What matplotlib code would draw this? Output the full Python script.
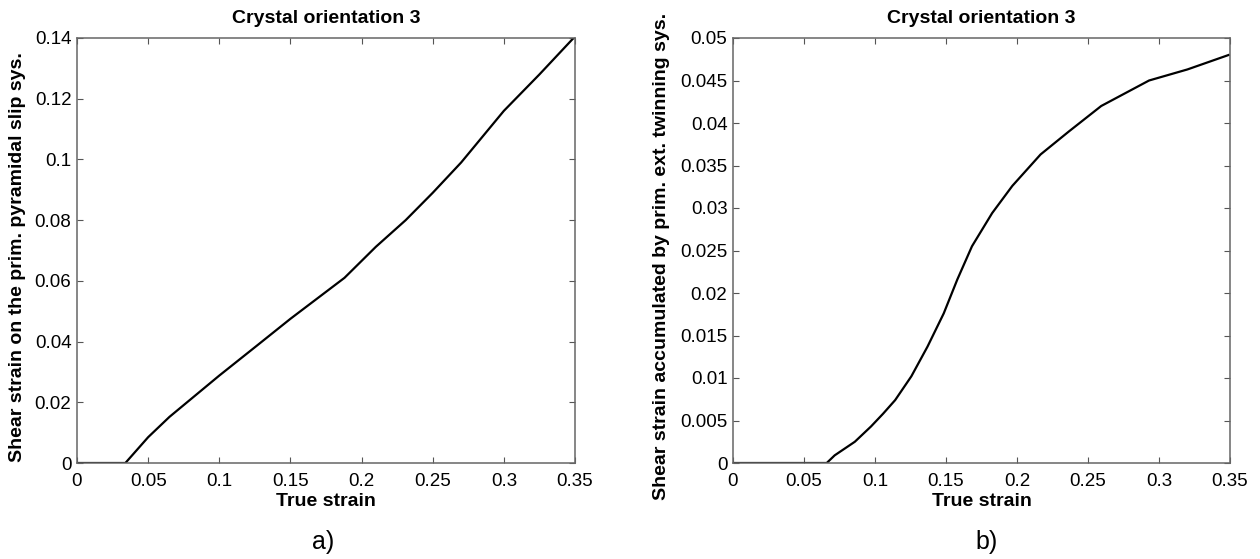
import numpy as np
import matplotlib.pyplot as plt

plt.rcParams['font.family'] = ['Liberation Sans', 'DejaVu Sans']

# panel a) primary pyramidal slip
strain_a = [0.0, 0.034, 0.05, 0.065, 0.1, 0.126, 0.15, 0.188, 0.21, 0.231, 0.25, 0.27, 0.30, 0.325, 0.349]
shear_a = [0.0, 0.0, 0.0085, 0.0152, 0.0288, 0.0385, 0.0475, 0.061, 0.0712, 0.080, 0.089, 0.099, 0.116, 0.128, 0.140]

# panel b) primary extension twinning
strain_b = [0.0, 0.066, 0.0716, 0.0858, 0.0972, 0.1057, 0.1142, 0.1256, 0.137, 0.1484, 0.158,
            0.1683, 0.1825, 0.1967, 0.2166, 0.2365, 0.2593, 0.293, 0.32, 0.349]
shear_b = [0.0, 0.0, 0.0009, 0.0025, 0.0043, 0.0058, 0.0074, 0.0102, 0.0137, 0.0176, 0.0216,
           0.0255, 0.0294, 0.0326, 0.0363, 0.039, 0.042, 0.045, 0.0463, 0.048]

xticks = [0, 0.05, 0.1, 0.15, 0.2, 0.25, 0.3, 0.35]
xticklabels = ['0', '0.05', '0.1', '0.15', '0.2', '0.25', '0.3', '0.35']
yticks_a = [0, 0.02, 0.04, 0.06, 0.08, 0.1, 0.12, 0.14]
yticklabels_a = ['0', '0.02', '0.04', '0.06', '0.08', '0.1', '0.12', '0.14']
yticks_b = [0, 0.005, 0.01, 0.015, 0.02, 0.025, 0.03, 0.035, 0.04, 0.045, 0.05]
yticklabels_b = ['0', '0.005', '0.01', '0.015', '0.02', '0.025', '0.03', '0.035', '0.04', '0.045', '0.05']

W, H = 1260, 559
fig = plt.figure(figsize=(12.6, 5.59), dpi=100)
ax1 = fig.add_axes([77 / W, 1 - 463 / H, 498 / W, 425 / H])
ax2 = fig.add_axes([733 / W, 1 - 463 / H, 497 / W, 425 / H])


def style(ax, yticks, yticklabels, ylim, ylabel, ylabel_x):
    ax.set_xlim(0, 0.35)
    ax.set_ylim(*ylim)
    ax.set_xticks(xticks)
    ax.set_xticklabels(xticklabels)
    ax.set_yticks(yticks)
    ax.set_yticklabels(yticklabels)
    ax.tick_params(direction='in', top=True, right=True, length=4, width=0.8,
                   color='#555555', labelsize=13.5)
    ax.tick_params(axis='x', pad=7)
    ax.tick_params(axis='y', pad=4)
    for s in ax.spines.values():
        s.set_color('#666666')
        s.set_linewidth(1.1)
    ax.set_title('Crystal orientation 3', fontsize=14, fontweight='bold', pad=11)
    ax.set_xlabel('True strain', fontsize=14, fontweight='bold', labelpad=2)
    ax.set_ylabel(ylabel, fontsize=14, fontweight='bold')
    bb = ax.get_position()
    ax.yaxis.set_label_coords((ylabel_x / W - bb.x0) / bb.width, 0.485)


ax1.plot(strain_a, shear_a, color='black', lw=1.6)
style(ax1, yticks_a, yticklabels_a, (0, 0.14), 'Shear strain on the prim. pyramidal slip sys.', 26)

ax2.plot(strain_b, shear_b, color='black', lw=1.6)
style(ax2, yticks_b, yticklabels_b, (0, 0.05), 'Shear strain accumulated by prim. ext. twinning sys.', 670)

fig.text(323 / W, 1 - 542 / H, 'a)', fontsize=18, ha='center', va='center')
fig.text(987 / W, 1 - 542 / H, 'b)', fontsize=18, ha='center', va='center')

fig.savefig('out.png', dpi=100)
